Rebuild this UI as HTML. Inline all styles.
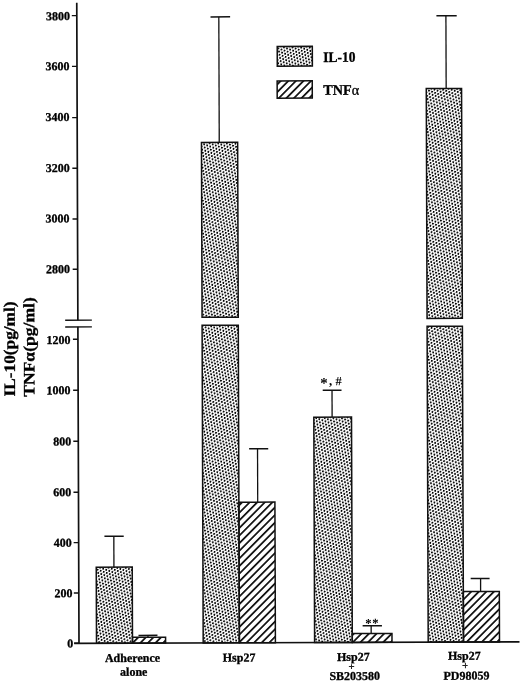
<!DOCTYPE html>
<html><head><meta charset="utf-8"><style>
html,body{margin:0;padding:0;background:#fff;overflow:hidden;}
svg{display:block;will-change:transform;}
</style></head><body>
<svg width="520" height="681" viewBox="0 0 520 681">
<defs>
<pattern id="dots" patternUnits="userSpaceOnUse" width="3.25" height="5.63" patternTransform="rotate(20)">
<circle cx="0.8" cy="0.8" r="1.05" fill="#000"/>
<circle cx="2.425" cy="3.615" r="1.05" fill="#000"/>
</pattern>
<pattern id="hatch" patternUnits="userSpaceOnUse" width="5.37" height="10" patternTransform="rotate(45)">
<rect x="0" y="0" width="1.75" height="10" fill="#111"/>
</pattern>
<pattern id="hatchL" patternUnits="userSpaceOnUse" width="5.37" height="10" patternTransform="translate(-1.4,0) rotate(45)">
<rect x="0" y="0" width="1.75" height="10" fill="#111"/>
</pattern>
</defs>
<rect x="0" y="0" width="520" height="681" fill="#fff"/>
<g transform="matrix(1,-0.0035,0.0035,1,-2.2505,0.2765)">
<path d="M79.0 2.8V320.3M79.0 326.8V643.4" stroke="#111" stroke-width="1.7" fill="none"/>
<path d="M66.3 320.2H93.0M66.3 326.9H93.0" stroke="#111" stroke-width="1.4" fill="none"/>
<line x1="74.0" y1="15.6" x2="79.0" y2="15.6" stroke="#111" stroke-width="1.4"/>
<text x="72.10" y="20.08" text-anchor="end" style="font-family:'Liberation Serif',serif;font-weight:bold;stroke:#000;stroke-width:0.3px;font-size:12px">3800</text>
<line x1="74.0" y1="66.4" x2="79.0" y2="66.4" stroke="#111" stroke-width="1.4"/>
<text x="71.40" y="70.23" text-anchor="end" style="font-family:'Liberation Serif',serif;font-weight:bold;stroke:#000;stroke-width:0.3px;font-size:12px">3600</text>
<line x1="74.0" y1="117.6" x2="79.0" y2="117.6" stroke="#111" stroke-width="1.4"/>
<text x="71.40" y="120.88" text-anchor="end" style="font-family:'Liberation Serif',serif;font-weight:bold;stroke:#000;stroke-width:0.3px;font-size:12px">3400</text>
<line x1="74.0" y1="168.3" x2="79.0" y2="168.3" stroke="#111" stroke-width="1.4"/>
<text x="71.30" y="171.88" text-anchor="end" style="font-family:'Liberation Serif',serif;font-weight:bold;stroke:#000;stroke-width:0.3px;font-size:12px">3200</text>
<line x1="74.0" y1="219.0" x2="79.0" y2="219.0" stroke="#111" stroke-width="1.4"/>
<text x="71.10" y="222.43" text-anchor="end" style="font-family:'Liberation Serif',serif;font-weight:bold;stroke:#000;stroke-width:0.3px;font-size:12px">3000</text>
<line x1="74.0" y1="269.3" x2="79.0" y2="269.3" stroke="#111" stroke-width="1.4"/>
<text x="71.30" y="273.08" text-anchor="end" style="font-family:'Liberation Serif',serif;font-weight:bold;stroke:#000;stroke-width:0.3px;font-size:12px">2800</text>
<line x1="74.0" y1="339.3" x2="79.0" y2="339.3" stroke="#111" stroke-width="1.4"/>
<text x="71.50" y="343.93" text-anchor="end" style="font-family:'Liberation Serif',serif;font-weight:bold;stroke:#000;stroke-width:0.3px;font-size:12px">1200</text>
<line x1="74.0" y1="390.2" x2="79.0" y2="390.2" stroke="#111" stroke-width="1.4"/>
<text x="71.30" y="394.28" text-anchor="end" style="font-family:'Liberation Serif',serif;font-weight:bold;stroke:#000;stroke-width:0.3px;font-size:12px">1000</text>
<line x1="74.0" y1="441.3" x2="79.0" y2="441.3" stroke="#111" stroke-width="1.4"/>
<text x="72.00" y="445.53" text-anchor="end" style="font-family:'Liberation Serif',serif;font-weight:bold;stroke:#000;stroke-width:0.3px;font-size:12px">800</text>
<line x1="74.0" y1="492.2" x2="79.0" y2="492.2" stroke="#111" stroke-width="1.4"/>
<text x="71.80" y="496.28" text-anchor="end" style="font-family:'Liberation Serif',serif;font-weight:bold;stroke:#000;stroke-width:0.3px;font-size:12px">600</text>
<line x1="74.0" y1="542.6" x2="79.0" y2="542.6" stroke="#111" stroke-width="1.4"/>
<text x="72.05" y="546.73" text-anchor="end" style="font-family:'Liberation Serif',serif;font-weight:bold;stroke:#000;stroke-width:0.3px;font-size:12px">400</text>
<line x1="74.0" y1="593.0" x2="79.0" y2="593.0" stroke="#111" stroke-width="1.4"/>
<text x="72.60" y="597.28" text-anchor="end" style="font-family:'Liberation Serif',serif;font-weight:bold;stroke:#000;stroke-width:0.3px;font-size:12px">200</text>
<line x1="74.0" y1="643.1" x2="79.0" y2="643.1" stroke="#111" stroke-width="1.4"/>
<text x="73.30" y="647.38" text-anchor="end" style="font-family:'Liberation Serif',serif;font-weight:bold;stroke:#000;stroke-width:0.3px;font-size:12px">0</text>
<line x1="74.2" y1="643.4" x2="519.5" y2="643.4" stroke="#111" stroke-width="1.6"/>
<line x1="114.2" y1="567.3" x2="114.2" y2="536.4" stroke="#111" stroke-width="1.3"/>
<line x1="104.8" y1="536.4" x2="124.1" y2="536.4" stroke="#111" stroke-width="1.5"/>
<rect x="96.5" y="567.3" width="36.00" height="76.10" fill="url(#dots)" stroke="#111" stroke-width="1.5"/>
<line x1="148.0" y1="637.55" x2="148.0" y2="635.6" stroke="#111" stroke-width="1.3"/>
<line x1="138.5" y1="635.6" x2="157.5" y2="635.6" stroke="#111" stroke-width="1.5"/>
<rect x="132.5" y="637.55" width="33.10" height="5.85" fill="url(#hatch)" stroke="#111" stroke-width="1.5"/>
<line x1="221.0" y1="142.9" x2="221.0" y2="17.4" stroke="#111" stroke-width="1.3"/>
<line x1="212.7" y1="17.4" x2="232.3" y2="17.4" stroke="#111" stroke-width="1.5"/>
<rect x="203.2" y="142.9" width="36.20" height="174.90" fill="url(#dots)" stroke="#111" stroke-width="1.5"/>
<rect x="203.2" y="325.7" width="36.20" height="317.70" fill="url(#dots)" stroke="#111" stroke-width="1.5"/>
<line x1="258.2" y1="502.8" x2="258.2" y2="449.4" stroke="#111" stroke-width="1.3"/>
<line x1="249.8" y1="449.4" x2="268.9" y2="449.4" stroke="#111" stroke-width="1.5"/>
<rect x="239.4" y="502.8" width="36.00" height="140.60" fill="url(#hatch)" stroke="#111" stroke-width="1.5"/>
<line x1="332.9" y1="418.0" x2="332.9" y2="391.1" stroke="#111" stroke-width="1.3"/>
<line x1="323.6" y1="391.1" x2="342.4" y2="391.1" stroke="#111" stroke-width="1.5"/>
<rect x="314.6" y="418.0" width="37.70" height="225.40" fill="url(#dots)" stroke="#111" stroke-width="1.5"/>
<line x1="371.2" y1="634.5" x2="371.2" y2="626.7" stroke="#111" stroke-width="1.3"/>
<line x1="362.7" y1="626.7" x2="382.0" y2="626.7" stroke="#111" stroke-width="1.5"/>
<rect x="352.3" y="634.5" width="39.70" height="8.90" fill="url(#hatch)" stroke="#111" stroke-width="1.5"/>
<line x1="448.1" y1="89.8" x2="448.1" y2="17.1" stroke="#111" stroke-width="1.3"/>
<line x1="438.6" y1="17.1" x2="458.9" y2="17.1" stroke="#111" stroke-width="1.5"/>
<rect x="428.2" y="89.8" width="35.30" height="229.80" fill="url(#dots)" stroke="#111" stroke-width="1.5"/>
<rect x="428.2" y="327.5" width="35.30" height="315.90" fill="url(#dots)" stroke="#111" stroke-width="1.5"/>
<line x1="480.8" y1="592.9" x2="480.8" y2="579.9" stroke="#111" stroke-width="1.3"/>
<line x1="470.9" y1="579.9" x2="489.8" y2="579.9" stroke="#111" stroke-width="1.5"/>
<rect x="463.5" y="592.9" width="36.00" height="50.50" fill="url(#hatch)" stroke="#111" stroke-width="1.5"/>
<rect x="279.3" y="47.2" width="35.1" height="19.7" fill="url(#dots)" stroke="#111" stroke-width="1.5"/>
<rect x="279.1" y="81.6" width="35.1" height="17.3" fill="url(#hatchL)" stroke="#111" stroke-width="1.5"/>
<text x="325.3" y="62.8" textLength="32.3" lengthAdjust="spacingAndGlyphs" style="font-family:'Liberation Serif',serif;font-weight:bold;stroke:#000;stroke-width:0.3px;font-size:14.5px">IL-10</text>
<text x="325.2" y="95.6" textLength="36" lengthAdjust="spacingAndGlyphs" style="font-family:'Liberation Serif',serif;font-weight:bold;stroke:#000;stroke-width:0.3px;font-size:14.5px">TNF<tspan style="font-weight:normal">α</tspan></text>
<text x="324.9" y="388.8" text-anchor="middle" style="font-family:'Liberation Serif',serif;font-weight:bold;font-size:15px">*</text>
<text x="331.5" y="385.8" text-anchor="middle" style="font-family:'Liberation Serif',serif;font-weight:bold;font-size:13px">,</text>
<text x="339.5" y="386.2" text-anchor="middle" style="font-family:'Liberation Serif',serif;font-weight:bold;font-size:12.5px">#</text>
<text x="368.5" y="628.4" text-anchor="middle" style="font-family:'Liberation Serif',serif;font-weight:bold;font-size:12.7px">*</text>
<text x="375.6" y="628.4" text-anchor="middle" style="font-family:'Liberation Serif',serif;font-weight:bold;font-size:12.7px">*</text>
<text x="132.45" y="662.1" text-anchor="middle" style="font-family:'Liberation Serif',serif;font-weight:bold;stroke:#000;stroke-width:0.3px;font-size:12px">Adherence</text>
<text x="133.65" y="676.0" text-anchor="middle" style="font-family:'Liberation Serif',serif;font-weight:bold;stroke:#000;stroke-width:0.3px;font-size:12px">alone</text>
<text x="239.0" y="662.1" text-anchor="middle" style="font-family:'Liberation Serif',serif;font-weight:bold;stroke:#000;stroke-width:0.3px;font-size:12px">Hsp27</text>
<text x="353.3" y="661.8" text-anchor="middle" style="font-family:'Liberation Serif',serif;font-weight:bold;stroke:#000;stroke-width:0.3px;font-size:12px">Hsp27</text>
<path d="M348.8 667.35H354.1M351.4 665.3V669.9" stroke="#222" stroke-width="1" fill="none"/>
<text x="354.6" y="680.9" text-anchor="middle" style="font-family:'Liberation Serif',serif;font-weight:bold;stroke:#000;stroke-width:0.3px;font-size:12px">SB203580</text>
<text x="464.25" y="661.1" text-anchor="middle" style="font-family:'Liberation Serif',serif;font-weight:bold;stroke:#000;stroke-width:0.3px;font-size:12px">Hsp27</text>
<path d="M462.3 666.95H467.6M465.35 664.3V669.7" stroke="#222" stroke-width="1" fill="none"/>
<text x="466.25" y="681.0" text-anchor="middle" style="font-family:'Liberation Serif',serif;font-weight:bold;stroke:#000;stroke-width:0.3px;font-size:12px">PD98059</text>
<text transform="translate(15.86,396.2) rotate(-90)" textLength="94.9" lengthAdjust="spacingAndGlyphs" style="font-family:'Liberation Serif',serif;font-weight:bold;stroke:#000;stroke-width:0.3px;font-size:16px">IL-10(pg/ml)</text>
<text transform="translate(35.46,396.6) rotate(-90)" textLength="99.5" lengthAdjust="spacingAndGlyphs" style="font-family:'Liberation Serif',serif;font-weight:bold;stroke:#000;stroke-width:0.3px;font-size:16px">TNFα(pg/ml)</text>
</g>
</svg>
</body></html>
